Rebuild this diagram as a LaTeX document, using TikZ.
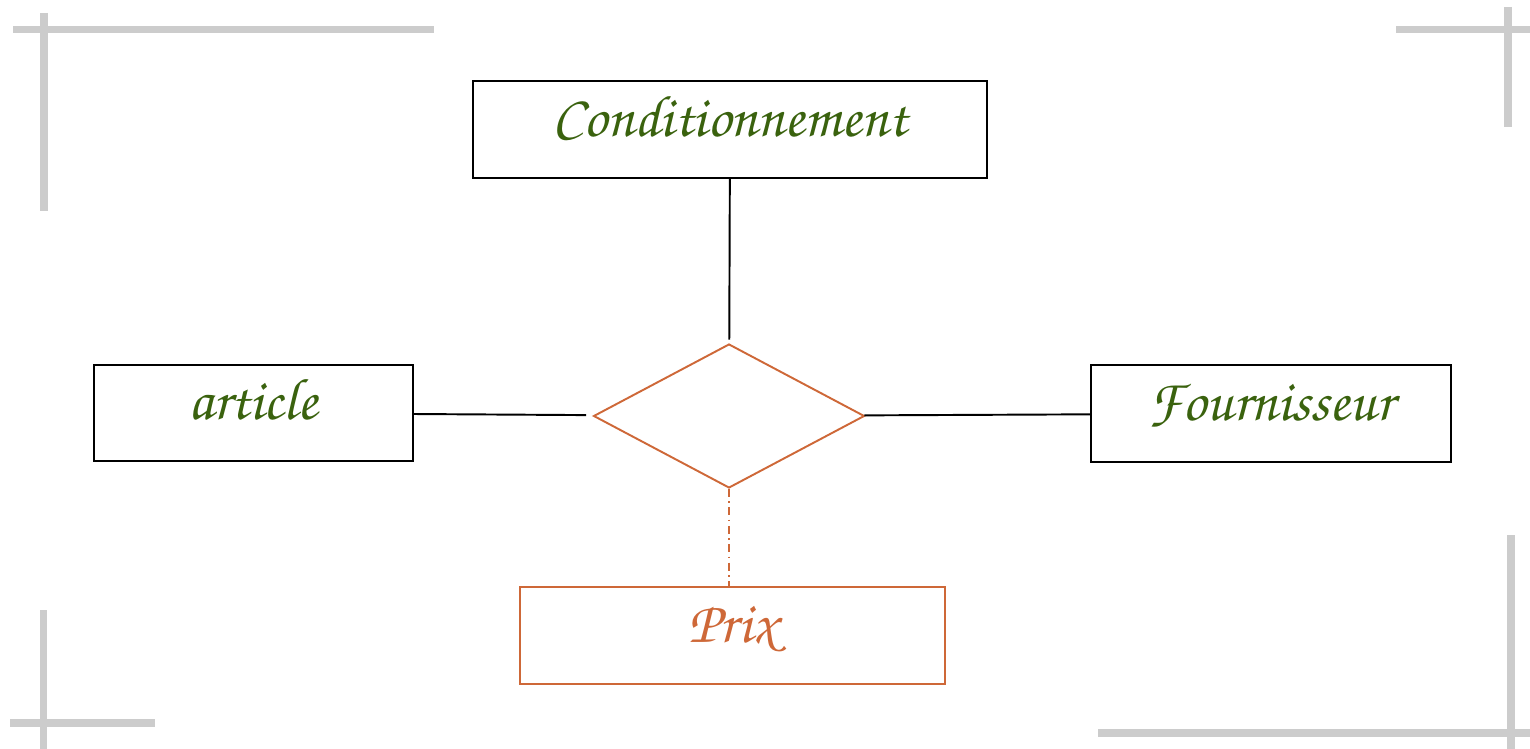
\documentclass[tikz,border=0pt]{standalone}
\usepackage[T1,TU]{fontenc}
\usepackage{tikz}
\usetikzlibrary{positioning, shapes.geometric}
\definecolor{leafgreen}{RGB}{58,98,14}
\definecolor{rust}{RGB}{206,104,56}
\definecolor{markgray}{RGB}{204,204,204}
\newcommand{\chancery}{\fontencoding{T1}\fontfamily{pzc}\fontseries{mb}\fontshape{it}\fontsize{33.5}{36}\selectfont}
\tikzset{entity node/.style={rectangle, draw, line width=1.1pt, inner sep=0pt, text height=0.47cm, text depth=0.19cm, text=leafgreen, font=\chancery},
         rel node/.style={diamond, draw=rust, line width=1.1pt, inner sep=0pt, aspect=1.88, minimum width=5.42cm, minimum height=2.88cm},
         attr node/.style={entity node, draw=rust, line width=1pt, text=rust},
         mark line/.style={markgray, line width=4.5pt},}

\begin{document}
\begin{tikzpicture}[x=0.02cm, y=-0.02cm]
        \useasboundingbox (0,0) rectangle (1530,749);
        % Corner marks
        \draw[mark line] (13,29.5) -- (434,29.5) (44,13) -- (44,211);
        \draw[mark line] (1396,29.5) -- (1530,29.5) (1508,7) -- (1508,127);
        \draw[mark line] (43.5,610) -- (43.5,749) (10,723) -- (155,723);
        \draw[mark line] (1098,733) -- (1530,733) (1511,535) -- (1511,749);
        % Association and entities
        \node[rel node] (rel) at (729,416) {};
        \node[entity node, minimum width=10.28cm, minimum height=1.94cm] [above = 3.28cm of rel, xshift=0.02cm] (cond) {Conditionnement};
        \node[entity node, minimum width=6.38cm, minimum height=1.92cm] [left = 3.58cm of rel, yshift=0.06cm] (art) {article};
        \node[entity node, minimum width=7.2cm, minimum height=1.94cm] [right = 4.5cm of rel, yshift=0.05cm] (four) {Fournisseur};
        % Attribute
        \node[attr node, minimum width=8.5cm, minimum height=1.94cm] [below = 1.94cm of rel, xshift=0.07cm] (prix) {Prix};
        % Links
        \path[draw, line width=1.1pt]
        (cond) edge [shorten >=2pt] (rel)
        (art) edge [shorten >=4.5pt] (rel)
        (rel) edge (four);
        \draw[rust, line width=1pt, dash pattern=on 4.5pt off 2.5pt on 1pt off 2.5pt] (rel.south) -- (rel.south |- prix.north);
    \end{tikzpicture}
\end{document}
